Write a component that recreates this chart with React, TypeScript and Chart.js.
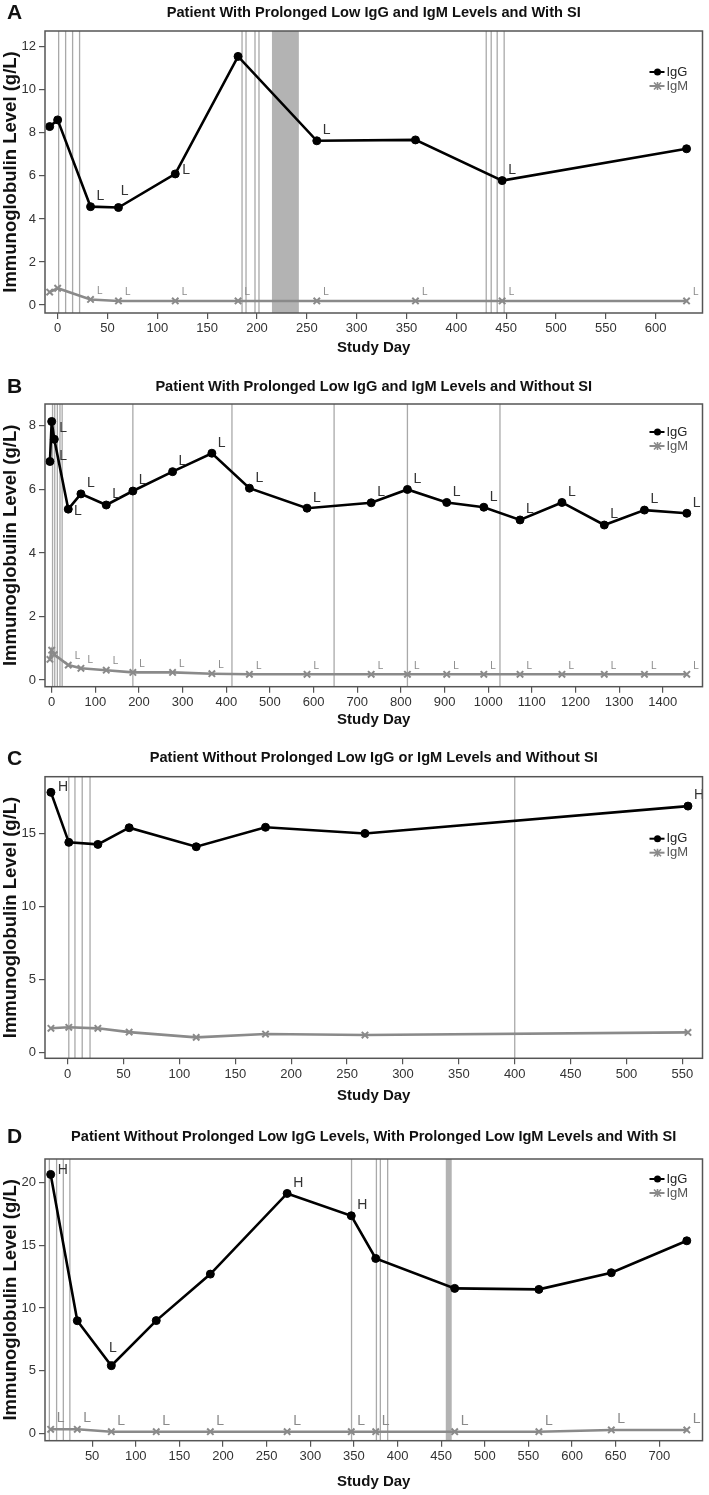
import React, { useEffect, useRef } from "react";
import { Chart, registerables } from "chart.js";
Chart.register(...registerables);

// ---------- Panel A ----------
const daysA = [-8, 0, 33, 61, 118, 181, 260, 359, 446, 631];
const igGA = [8.29, 8.6, 4.57, 4.53, 6.09, 11.55, 7.63, 7.67, 5.78, 7.26];
const igMA = [0.6, 0.78, 0.26, 0.19, 0.19, 0.19, 0.19, 0.19, 0.19, 0.19];
const igGFlagsA = ["", "", "L", "L", "L", "", "L", "", "L", ""];
const igMFlagsA = ["", "", "L", "L", "L", "L", "L", "L", "L", "L"];
const eventDaysA = [1, 8, 15, 22, 185, 189, 198, 202, 430, 435, 441, 448];
const shadedA = [[215, 242]];
const xTicksA = [0, 50, 100, 150, 200, 250, 300, 350, 400, 450, 500, 550, 600];
const yTicksA = [0, 2, 4, 6, 8, 10, 12];

// ---------- Panel B ----------
const daysB = [-4, 0, 6, 38, 67, 125, 186, 277, 367, 453, 585, 732, 815, 905, 990, 1073, 1169, 1266, 1358, 1455];
const igGB = [6.88, 8.14, 7.58, 5.38, 5.86, 5.51, 5.95, 6.56, 7.14, 6.04, 5.41, 5.58, 6.0, 5.59, 5.44, 5.04, 5.59, 4.88, 5.35, 5.25];
const igMB = [0.65, 0.94, 0.8, 0.47, 0.37, 0.31, 0.24, 0.24, 0.2, 0.18, 0.18, 0.18, 0.18, 0.18, 0.18, 0.18, 0.18, 0.18, 0.18, 0.18];
const igGFlagsB = ["", "L", "L", "L", "L", "L", "L", "L", "L", "L", "L", "L", "L", "L", "L", "L", "L", "L", "L", "L"];
const igMFlagsB = ["", "", "", "L", "L", "L", "L", "L", "L", "L", "L", "L", "L", "L", "L", "L", "L", "L", "L", "L"];
const eventDaysB = [2, 7, 13, 19, 24, 186, 413, 647, 815, 1027];
const shadedB: number[][] = [];
const xTicksB = [0, 100, 200, 300, 400, 500, 600, 700, 800, 900, 1000, 1100, 1200, 1300, 1400];
const yTicksB = [0, 2, 4, 6, 8];

// ---------- Panel C ----------
const daysC = [-15, 1, 27, 55, 115, 177, 266, 555];
const igGC = [17.81, 14.39, 14.25, 15.39, 14.09, 15.42, 15.0, 16.87];
const igMC = [1.67, 1.74, 1.67, 1.41, 1.05, 1.28, 1.21, 1.39];
const igGFlagsC = ["H", "", "", "", "", "", "", "H"];
const igMFlagsC = ["", "", "", "", "", "", "", ""];
const eventDaysC = [1, 6.5, 13, 20, 400];
const shadedC: number[][] = [];
const xTicksC = [0, 50, 100, 150, 200, 250, 300, 350, 400, 450, 500, 550];
const yTicksC = [0, 5, 10, 15];

// ---------- Panel D ----------
const daysD = [2.5, 33, 72, 123.5, 185.5, 273.5, 347, 375, 465.5, 562, 645, 731.5];
const igGD = [20.67, 8.99, 5.4, 9.0, 12.71, 19.15, 17.37, 13.96, 11.57, 11.49, 12.82, 15.37];
const igMD = [0.32, 0.32, 0.13, 0.13, 0.13, 0.13, 0.13, 0.13, 0.13, 0.13, 0.27, 0.27];
const igGFlagsD = ["H", "", "L", "", "", "H", "H", "", "", "", "", ""];
const igMFlagsD = ["L", "L", "L", "L", "L", "L", "L", "L", "L", "L", "L", "L"];
const eventDaysD = [1, 9.3, 17, 24.5, 347.3, 375.8, 380.3, 388.7];
const shadedD = [[455.3, 462.1]];
const xTicksD = [50, 100, 150, 200, 250, 300, 350, 400, 450, 500, 550, 600, 650, 700];
const yTicksD = [0, 5, 10, 15, 20];

const seriesNames = ["IgG", "IgM"];

const NARROW = "'Liberation Sans Narrow', 'Arial Narrow', 'Liberation Sans', Arial, sans-serif";
const WIDE = "'Liberation Sans', Arial, sans-serif";
const IGG_COLOR = "#000000";
const IGM_COLOR = "#8a8a8a";

type Panel = {
  letter: string;
  title: string;
  top: number;
  height: number;
  boxTop: number;
  boxBottom: number;
  titleCenter: number;
  studyCenter: number;
  days: number[];
  igG: number[];
  igM: number[];
  igGFlags: string[];
  igMFlags: string[];
  events: number[];
  shaded: number[][];
  xTicks: number[];
  yTicks: number[];
  xMin: number;
  xMax: number;
  yMin: number;
  yMax: number;
  legendOffset: number;
  bigIgMFlags: boolean;
  nudgeG: Record<number, [number, number]>;
};

const panels: Panel[] = [
  {
    letter: "A", title: "Patient With Prolonged Low IgG and IgM Levels and With SI",
    top: 0, height: 366, boxTop: 31, boxBottom: 313, titleCenter: 12.7, studyCenter: 348,
    days: daysA, igG: igGA, igM: igMA, igGFlags: igGFlagsA, igMFlags: igMFlagsA,
    events: eventDaysA, shaded: shadedA, xTicks: xTicksA, yTicks: yTicksA,
    xMin: -12.7, xMax: 647, yMin: -0.37, yMax: 12.73, legendOffset: 41, bigIgMFlags: false,
    nudgeG: { 3: [2.4, -16], 4: [7, -4] },
  },
  {
    letter: "B", title: "Patient With Prolonged Low IgG and IgM Levels and Without SI",
    top: 366, height: 369, boxTop: 404, boxBottom: 686.7, titleCenter: 386.7, studyCenter: 720,
    days: daysB, igG: igGB, igM: igMB, igGFlags: igGFlagsB, igMFlags: igMFlagsB,
    events: eventDaysB, shaded: shadedB, xTicks: xTicksB, yTicks: yTicksB,
    xMin: -15.3, xMax: 1491, yMin: -0.21, yMax: 8.69, legendOffset: 28, bigIgMFlags: false,
    nudgeG: { 1: [7.6, 7], 2: [5, 17], 3: [5.7, 2.4] },
  },
  {
    letter: "C", title: "Patient Without Prolonged Low IgG or IgM Levels and Without SI",
    top: 735, height: 377, boxTop: 776.7, boxBottom: 1058.3, titleCenter: 758.3, studyCenter: 1096,
    days: daysC, igG: igGC, igM: igMC, igGFlags: igGFlagsC, igMFlags: igMFlagsC,
    events: eventDaysC, shaded: shadedC, xTicks: xTicksC, yTicks: yTicksC,
    xMin: -20.3, xMax: 568, yMin: -0.38, yMax: 18.88, legendOffset: 62, bigIgMFlags: false,
    nudgeG: { 0: [7, -5] },
  },
  {
    letter: "D", title: "Patient Without Prolonged Low IgG Levels, With Prolonged Low IgM Levels and With SI",
    top: 1112, height: 383, boxTop: 1159, boxBottom: 1440.7, titleCenter: 1136.7, studyCenter: 1481.7,
    days: daysD, igG: igGD, igM: igMD, igGFlags: igGFlagsD, igMFlags: igMFlagsD,
    events: eventDaysD, shaded: shadedD, xTicks: xTicksD, yTicks: yTicksD,
    xMin: -4, xMax: 749.5, yMin: -0.59, yMax: 21.9, legendOffset: 20, bigIgMFlags: true,
    nudgeG: { 0: [7, -4], 2: [-2.4, -17.7] },
  },
];

const decorPlugin = {
  id: "decor",
  beforeDatasetsDraw(chart: any, _a: any, opts: any) {
    const { ctx, chartArea: a, scales } = chart;
    const x = scales.x;
    ctx.save();
    ctx.beginPath();
    ctx.rect(a.left, a.top, a.right - a.left, a.bottom - a.top);
    ctx.clip();
    ctx.fillStyle = "#b3b3b3";
    for (const [s, e] of opts.shaded) {
      const p1 = x.getPixelForValue(s);
      const p2 = x.getPixelForValue(e);
      ctx.fillRect(p1, a.top, p2 - p1, a.bottom - a.top);
    }
    ctx.strokeStyle = "#a9a9a9";
    ctx.lineWidth = 1.3;
    for (const d of opts.events) {
      const px = x.getPixelForValue(d);
      ctx.beginPath();
      ctx.moveTo(px, a.top);
      ctx.lineTo(px, a.bottom);
      ctx.stroke();
    }
    ctx.restore();
  },
  afterDatasetsDraw(chart: any, _a: any, opts: any) {
    const { ctx } = chart;
    ctx.save();
    ctx.textAlign = "left";
    ctx.textBaseline = "middle";
    const metaG = chart.getDatasetMeta(0);
    ctx.font = `14px ${NARROW}`;
    ctx.fillStyle = "#333333";
    opts.igGFlags.forEach((f: string, i: number) => {
      if (!f) return;
      const el = metaG.data[i];
      const n = opts.nudgeG[i] || [6, -10.5];
      ctx.fillText(f, el.x + n[0], el.y + n[1]);
    });
    const metaM = chart.getDatasetMeta(1);
    ctx.font = opts.bigIgM ? `14px ${NARROW}` : `10px ${NARROW}`;
    ctx.fillStyle = IGM_COLOR;
    opts.igMFlags.forEach((f: string, i: number) => {
      if (!f) return;
      const el = metaM.data[i];
      const n = opts.bigIgM ? [6, -11] : [6.5, -8.5];
      ctx.fillText(f, el.x + n[0], el.y + n[1]);
    });
    ctx.restore();
  },
  afterDraw(chart: any, _a: any, opts: any) {
    const { ctx, chartArea: a } = chart;
    ctx.save();
    // frame
    ctx.strokeStyle = "#555555";
    ctx.lineWidth = 1.5;
    ctx.strokeRect(a.left, a.top, a.right - a.left, a.bottom - a.top);
    // legend
    const lx = a.right - 53;
    let ly = a.top + opts.legendOffset;
    ctx.font = `13px ${NARROW}`;
    ctx.textAlign = "left";
    ctx.textBaseline = "middle";
    seriesNames.forEach((name, k) => {
      const col = k === 0 ? IGG_COLOR : IGM_COLOR;
      ctx.strokeStyle = col;
      ctx.fillStyle = col;
      ctx.lineWidth = 2;
      ctx.beginPath();
      ctx.moveTo(lx, ly);
      ctx.lineTo(lx + 15, ly);
      ctx.stroke();
      const cx = lx + 8;
      if (k === 0) {
        ctx.beginPath();
        ctx.arc(cx, ly, 3.5, 0, Math.PI * 2);
        ctx.fill();
      } else {
        ctx.lineWidth = 1.6;
        ctx.beginPath();
        ctx.moveTo(cx - 3.5, ly - 3.5);
        ctx.lineTo(cx + 3.5, ly + 3.5);
        ctx.moveTo(cx + 3.5, ly - 3.5);
        ctx.lineTo(cx - 3.5, ly + 3.5);
        ctx.moveTo(cx, ly - 4);
        ctx.lineTo(cx, ly + 4);
        ctx.stroke();
      }
      ctx.fillStyle = k === 0 ? "#222" : "#555";
      ctx.fillText(name, lx + 17, ly);
      ly += 14;
    });
    // panel letter
    ctx.fillStyle = "#111";
    ctx.font = `bold 21px ${WIDE}`;
    ctx.textAlign = "center";
    ctx.fillText(opts.letter, 14.7, opts.letterY);
    ctx.restore();
  },
};

function PanelChart({ p }: { p: Panel }) {
  const ref = useRef<HTMLCanvasElement | null>(null);
  useEffect(() => {
    if (!ref.current) return;
    const titleFs = 14.6;
    const titleLH = titleFs * 1.2;
    const titleCenterRel = p.titleCenter - p.top;
    const padTop = titleCenterRel - titleLH / 2;
    const padBottom = p.boxTop - p.top - titleLH - padTop;
    const xAxisHeight = p.height - (p.boxBottom - p.top);
    const studyFs = 15;
    const studyPadBottom = p.height - (p.studyCenter - p.top) - (studyFs * 1.2) / 2;

    const chart = new Chart(ref.current, {
      type: "line",
      data: {
        datasets: [
          {
            label: seriesNames[0],
            data: p.days.map((d, i) => ({ x: d, y: p.igG[i] })),
            borderColor: IGG_COLOR,
            backgroundColor: IGG_COLOR,
            borderWidth: 2.6,
            pointRadius: 4,
            pointStyle: "circle",
            pointBackgroundColor: IGG_COLOR,
            pointBorderColor: IGG_COLOR,
            pointBorderWidth: 1,
            tension: 0,
            order: 1,
          },
          {
            label: seriesNames[1],
            data: p.days.map((d, i) => ({ x: d, y: p.igM[i] })),
            borderColor: IGM_COLOR,
            backgroundColor: IGM_COLOR,
            borderWidth: 2.6,
            pointRadius: 4.5,
            pointStyle: "crossRot",
            pointBorderColor: IGM_COLOR,
            pointBorderWidth: 2,
            tension: 0,
            order: 2,
          },
        ],
      },
      options: {
        responsive: false,
        animation: false,
        events: [],
        layout: { padding: { left: 0, right: 4, top: 0, bottom: 0 } },
        plugins: {
          legend: { display: false },
          tooltip: { enabled: false },
          title: {
            display: true,
            text: p.title,
            fullSize: false,
            color: "#111",
            font: { family: NARROW, size: titleFs, weight: "bold", lineHeight: 1.2 },
            padding: { top: padTop, bottom: padBottom },
          },
          decor: {
            events: p.events,
            shaded: p.shaded,
            igGFlags: p.igGFlags,
            igMFlags: p.igMFlags,
            bigIgM: p.bigIgMFlags,
            nudgeG: p.nudgeG,
            legendOffset: p.legendOffset,
            letter: p.letter,
            letterY: titleCenterRel + 0.6,
          },
        } as any,
        scales: {
          x: {
            type: "linear",
            min: p.xMin,
            max: p.xMax,
            afterBuildTicks: (s: any) => {
              s.ticks = p.xTicks.map((v) => ({ value: v }));
            },
            afterFit: (s: any) => {
              s.height = xAxisHeight;
            },
            border: { display: false },
            grid: { display: true, drawOnChartArea: false, drawTicks: true, tickLength: 6, color: "#555", lineWidth: 1.2 },
            ticks: {
              color: "#333",
              font: { family: NARROW, size: 13 },
              padding: 2,
              maxRotation: 0,
              autoSkip: false,
              callback: (v: any) => String(v),
            },
            title: {
              display: true,
              text: "Study Day",
              color: "#111",
              font: { family: WIDE, size: studyFs, weight: "bold", lineHeight: 1.2 },
              padding: { top: 0, bottom: studyPadBottom },
            },
          },
          y: {
            type: "linear",
            min: p.yMin,
            max: p.yMax,
            afterBuildTicks: (s: any) => {
              s.ticks = p.yTicks.map((v) => ({ value: v }));
            },
            afterFit: (s: any) => {
              s.width = 45;
            },
            border: { display: false },
            grid: { display: true, drawOnChartArea: false, drawTicks: true, tickLength: 6, color: "#555", lineWidth: 1.2 },
            ticks: {
              color: "#333",
              font: { family: NARROW, size: 13 },
              padding: 3,
              autoSkip: false,
              callback: (v: any) => String(v),
            },
            title: {
              display: true,
              text: "Immunoglobulin Level (g/L)",
              color: "#111",
              font: { family: WIDE, size: 18.5, weight: "bold", lineHeight: 1.2 },
              padding: { top: 0, bottom: 0 },
            },
          },
        },
      },
      plugins: [decorPlugin as any],
    });
    return () => chart.destroy();
  }, [p]);
  return (
    <canvas
      ref={ref}
      width={709}
      height={p.height}
      style={{ position: "absolute", left: 0, top: p.top, width: 709, height: p.height }}
    />
  );
}

export default function App() {
  return (
    <div style={{ position: "absolute", left: 0, top: 0, width: 709, height: 1495, background: "#fff", overflow: "hidden" }}>
      {panels.map((p) => (
        <PanelChart key={p.letter} p={p} />
      ))}
    </div>
  );
}
